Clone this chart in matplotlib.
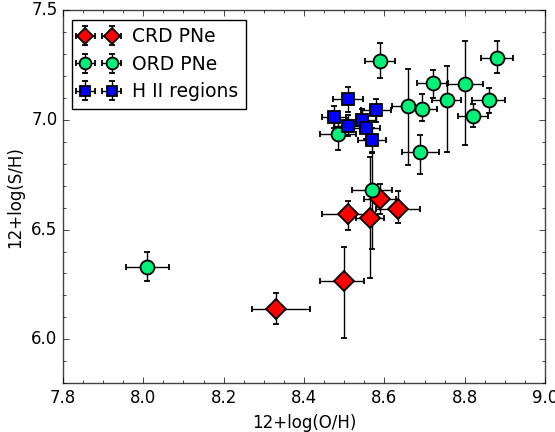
import matplotlib
matplotlib.use("Agg")
import matplotlib.pyplot as plt
from matplotlib.ticker import MultipleLocator, FormatStrFormatter

plt.style.use("classic")
plt.rcParams["font.family"] = ["DejaVu Sans"]
plt.rcParams["savefig.facecolor"] = "white"
plt.rcParams["figure.facecolor"] = "white"

# CRD planetary nebulae
crd_oh = [8.33, 8.50, 8.51, 8.565, 8.59, 8.635]
crd_sh = [6.14, 6.265, 6.57, 6.555, 6.64, 6.595]
crd_oh_lo = [0.06, 0.06, 0.065, 0.035, 0.04, 0.055]
crd_oh_hi = [0.085, 0.05, 0.05, 0.035, 0.04, 0.055]
crd_sh_lo = [0.07, 0.26, 0.07, 0.275, 0.07, 0.065]
crd_sh_hi = [0.07, 0.155, 0.06, 0.275, 0.07, 0.08]

# ORD planetary nebulae
ord_oh = [8.01, 8.485, 8.57, 8.59, 8.66, 8.695, 8.72, 8.755, 8.80, 8.82, 8.86, 8.88, 8.69]
ord_sh = [6.33, 6.935, 6.68, 7.27, 7.065, 7.05, 7.17, 7.09, 7.165, 7.02, 7.09, 7.285, 6.855]
ord_oh_err = [0.053, 0.045, 0.05, 0.037, 0.04, 0.037, 0.038, 0.037, 0.045, 0.037, 0.041, 0.04, 0.047]
ord_sh_lo = [0.065, 0.07, 0.27, 0.076, 0.27, 0.055, 0.07, 0.237, 0.278, 0.051, 0.057, 0.068, 0.10]
ord_sh_hi = [0.07, 0.07, 0.17, 0.083, 0.17, 0.068, 0.06, 0.155, 0.194, 0.055, 0.056, 0.076, 0.079]

# H II regions
hii_oh = [8.51, 8.475, 8.51, 8.545, 8.58, 8.555, 8.57]
hii_sh = [7.095, 7.015, 6.975, 7.0, 7.045, 6.965, 6.91]
hii_oh_err = [0.037, 0.03, 0.035, 0.035, 0.037, 0.035, 0.035]
hii_sh_err = [0.058, 0.05, 0.05, 0.05, 0.053, 0.05, 0.055]

fig = plt.figure(figsize=(5.55, 4.32), dpi=100)
ax = fig.add_axes([0.1135, 0.1134, 0.8685, 0.8623])

common = dict(linestyle="none", ecolor="black", elinewidth=1.0,
              capsize=2.5, capthick=1.8, markeredgecolor="black",
              markeredgewidth=1.3)

ax.errorbar(crd_oh, crd_sh, xerr=[crd_oh_lo, crd_oh_hi], yerr=[crd_sh_lo, crd_sh_hi],
            fmt="D", color="red", markerfacecolor="red", markersize=10,
            label="CRD PNe", **common)
ax.errorbar(ord_oh, ord_sh, xerr=ord_oh_err, yerr=[ord_sh_lo, ord_sh_hi],
            fmt="o", color="#00f07a", markerfacecolor="#00f07a", markersize=10,
            label="ORD PNe", **common)
ax.errorbar(hii_oh, hii_sh, xerr=hii_oh_err, yerr=hii_sh_err,
            fmt="s", color="blue", markerfacecolor="blue", markersize=9,
            label="H II regions", **common)

ax.set_xlim(7.8, 9.0)
ax.set_ylim(5.8, 7.5)
ax.xaxis.set_major_locator(MultipleLocator(0.2))
ax.xaxis.set_minor_locator(MultipleLocator(0.05))
ax.yaxis.set_major_locator(MultipleLocator(0.5))
ax.yaxis.set_minor_locator(MultipleLocator(0.1))
ax.xaxis.set_major_formatter(FormatStrFormatter("%.1f"))
ax.yaxis.set_major_formatter(FormatStrFormatter("%.1f"))
ax.tick_params(which="both", direction="in", top=True, right=True, labelsize=12)
ax.tick_params(which="major", length=4)
ax.tick_params(which="minor", length=2)
for s in ax.spines.values():
    s.set_color("#444444")

ax.set_xlabel("12+log(O/H)", fontsize=12)
ax.set_ylabel("12+log(S/H)", fontsize=12)

leg = ax.legend(loc="upper left", numpoints=2, fontsize=13.5, frameon=True,
                fancybox=False, borderaxespad=0.5, markerscale=0.85,
                handlelength=2.0, handletextpad=0.8, labelspacing=0.45)
leg.get_frame().set_edgecolor("black")

fig.savefig("out.png", dpi=100)
